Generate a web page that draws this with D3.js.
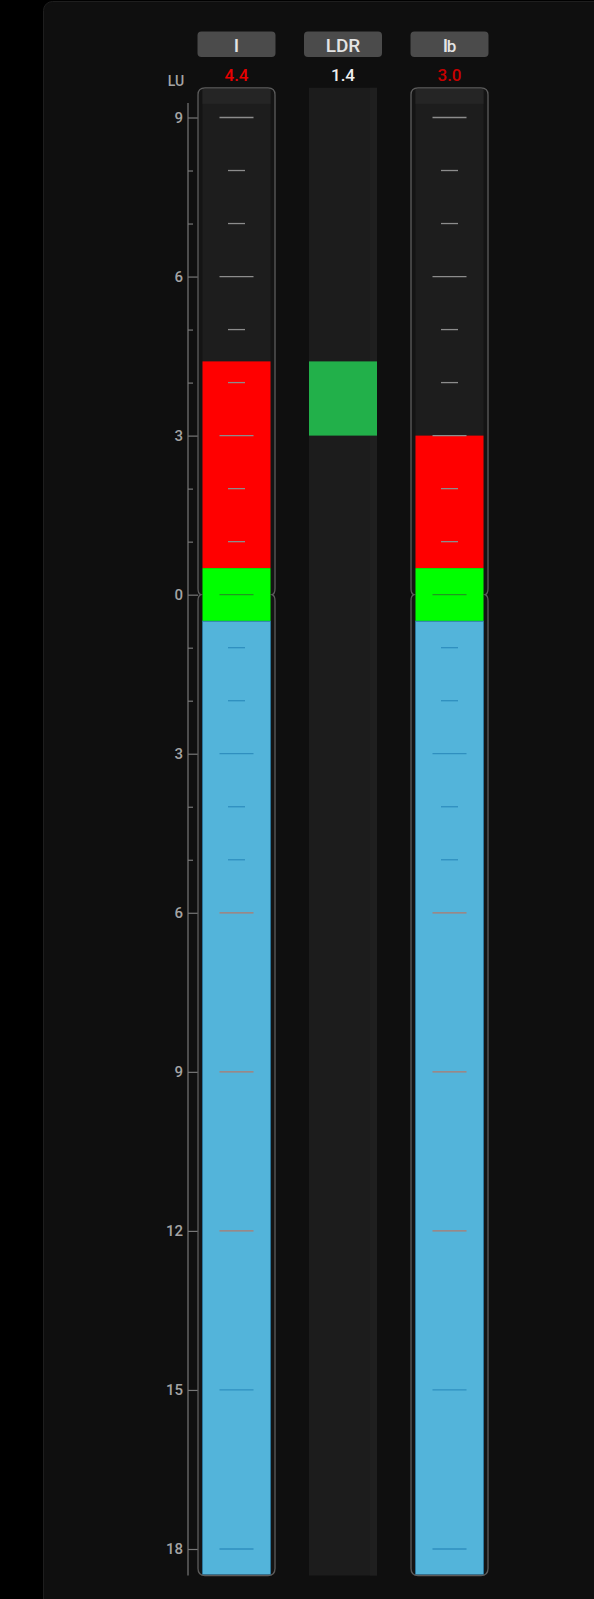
<!DOCTYPE html>
<html><head><meta charset="utf-8">
<script src="https://cdn.jsdelivr.net/npm/d3@7/dist/d3.min.js"></script>
<style>
html,body{margin:0;padding:0;background:#000;}
svg{display:block;font-family:Roboto,"Noto Sans",sans-serif;}
</style></head>
<body>
<svg id="chart" width="594" height="1599"></svg>
<script>
// ---- data ----
const meters = ["I", "LDR", "Ib"];
const readouts = ["4.4", "1.4", "3.0"];
const levels = [4.4, null, 3.0];          // LU level of each loudness bar
const ldrRange = [3.0, 4.4];              // LDR bar spans these LU values
const greenZone = [-0.5, 0.5];
const scaleTop = 9.56, scaleBottom = -18.5;
const majorTicks = [9, 6, 3, 0, -3, -6, -9, -12, -15, -18];
const minorTicks = [8, 7, 5, 4, 2, 1, -1, -2, -4, -5];
const axisUnit = "LU";

// ---- layout ----
const svg = d3.select("#chart");
const W = 594, H = 1599;
svg.append("rect").attr("width", W).attr("height", H).attr("fill", "#000");
svg.append("rect").attr("x", 43.5).attr("y", 1.5).attr("width", 600).attr("height", 1700)
  .attr("rx", 9).attr("fill", "#0f0f0f").attr("stroke", "#1e1e1e");

const y = d3.scaleLinear().domain([9, -18]).range([117.5, 1549]);
const x = d3.scalePoint().domain(meters).range([236.5, 449.5]);
const frameW = 77, fillW = 68;

function tickColor(v) {
  if (v > 0) return "#8c8c8c";
  if (v === 0) return "#1f9a1f";
  if (v >= -5 || v <= -15) return "#2f8fbf";
  return "#b07a6c";
}

// ---- axis ----
const axisX = 188;
const gAxis = svg.append("g").attr("transform", `translate(${axisX},0)`);
gAxis.call(d3.axisRight(y).tickValues(majorTicks).tickSize(10)
  .tickFormat(d => Math.abs(d)));
gAxis.select(".domain").remove();
gAxis.selectAll(".tick line").attr("stroke", "#777").attr("stroke-width", 1.2);
gAxis.selectAll(".tick text").attr("x", -5).attr("text-anchor", "end")
  .attr("fill", "#a4a4a4").attr("font-size", 15).attr("font-weight", 500)
  .attr("font-family", "Roboto, sans-serif");
const gMinor = svg.append("g").attr("transform", `translate(${axisX},0)`);
gMinor.call(d3.axisRight(y).tickValues(minorTicks).tickSize(5).tickFormat(""));
gMinor.select(".domain").remove();
gMinor.selectAll(".tick line").attr("stroke", "#777").attr("stroke-width", 1.2);
svg.append("line").attr("x1", axisX).attr("x2", axisX)
  .attr("y1", 103).attr("y2", y(scaleBottom)).attr("stroke", "#777").attr("stroke-width", 1.2);
svg.append("text").attr("x", 176).attr("y", 86).attr("text-anchor", "middle")
  .attr("fill", "#a4a4a4").attr("font-size", 14).attr("font-weight", 500).text(axisUnit);

// ---- headers ----
meters.forEach((m, i) => {
  const cx = x(m);
  svg.append("rect").attr("x", cx - 39).attr("y", 31.5).attr("width", 78).attr("height", 25.5)
    .attr("rx", 4).attr("fill", "#4b4b4b");
  const t = svg.append("text").attr("x", cx).attr("y", 51.5).attr("text-anchor", "middle")
    .attr("fill", "#e4e4e4").attr("font-size", 19).attr("font-weight", 500);
  if (m === "Ib") {
    t.append("tspan").text("I");
    t.append("tspan").attr("dx", -1.5).attr("font-size", 17).text("b");
  } else t.text(m);
  const col = i === 0 ? "#e80000" : (i === 2 ? "#c80000" : "#f0f0f0");
  svg.append("text").attr("x", cx).attr("y", 81).attr("text-anchor", "middle")
    .attr("fill", col).attr("font-size", 17).attr("font-weight", 500).text(readouts[i]);
});

// ---- meters ----
const yTop = y(scaleTop), yBot = y(scaleBottom), yZero = y(0);
meters.forEach((m, i) => {
  const cx = x(m);
  if (levels[i] === null) {
    // LDR column
    svg.append("rect").attr("x", cx - fillW / 2).attr("y", yTop).attr("width", fillW)
      .attr("height", yBot - yTop).attr("fill", "#1c1c1c");
    svg.append("rect").attr("x", cx + fillW / 2 - 7).attr("y", yTop).attr("width", 7)
      .attr("height", yBot - yTop).attr("fill", "#1f1f1f");
    svg.append("rect").attr("x", cx - fillW / 2).attr("y", y(ldrRange[1]))
      .attr("width", fillW).attr("height", y(ldrRange[0]) - y(ldrRange[1]))
      .attr("fill", "#22b04a");
    return;
  }
  const x0 = cx - frameW / 2, x1 = cx + frameW / 2;
  // interior
  svg.append("rect").attr("x", x0).attr("y", yTop).attr("width", frameW)
    .attr("height", yBot - yTop).attr("rx", 7).attr("fill", "#141414");
  svg.append("rect").attr("x", cx - fillW / 2).attr("y", yTop + 1).attr("width", fillW)
    .attr("height", yBot - yTop - 2).attr("fill", "#1d1d1d");
  svg.append("rect").attr("x", cx - fillW / 2).attr("y", yTop + 1).attr("width", fillW)
    .attr("height", 15).attr("fill", "#252525");
  // fills
  const lv = levels[i];
  svg.append("rect").attr("x", cx - fillW / 2).attr("y", y(lv)).attr("width", fillW)
    .attr("height", y(greenZone[1]) - y(lv)).attr("fill", "#ff0000");
  svg.append("rect").attr("x", cx - fillW / 2).attr("y", y(greenZone[1])).attr("width", fillW)
    .attr("height", y(greenZone[0]) - y(greenZone[1])).attr("fill", "#00ff00");
  svg.append("rect").attr("x", cx - fillW / 2).attr("y", y(greenZone[0])).attr("width", fillW)
    .attr("height", yBot - 1 - y(greenZone[0])).attr("fill", "#53b4da")
    .attr("stroke", "#2a7aa3").attr("stroke-width", 0.8);
  // inner ticks
  const g = svg.append("g");
  g.selectAll(".maj").data(majorTicks).join("line")
    .attr("x1", cx - 17).attr("x2", cx + 17)
    .attr("y1", d => y(d)).attr("y2", d => y(d))
    .attr("stroke", d => tickColor(d)).attr("stroke-width", 1.3);
  g.selectAll(".min").data(minorTicks).join("line")
    .attr("x1", cx - 8.5).attr("x2", cx + 8.5)
    .attr("y1", d => y(d)).attr("y2", d => y(d))
    .attr("stroke", d => tickColor(d)).attr("stroke-width", 1.3);
  // frame with notch at 0
  const r = 7;
  const p = d3.path();
  p.moveTo(x0 + r, yTop);
  p.lineTo(x1 - r, yTop);
  p.quadraticCurveTo(x1, yTop, x1, yTop + r);
  p.lineTo(x1, yZero - 6);
  p.quadraticCurveTo(x1, yZero - 1, x1 - 3, yZero);
  p.quadraticCurveTo(x1, yZero + 1, x1, yZero + 6);
  p.lineTo(x1, yBot - r);
  p.quadraticCurveTo(x1, yBot, x1 - r, yBot);
  p.lineTo(x0 + r, yBot);
  p.quadraticCurveTo(x0, yBot, x0, yBot - r);
  p.lineTo(x0, yZero + 6);
  p.quadraticCurveTo(x0, yZero + 1, x0 + 3, yZero);
  p.quadraticCurveTo(x0, yZero - 1, x0, yZero - 6);
  p.lineTo(x0, yTop + r);
  p.quadraticCurveTo(x0, yTop, x0 + r, yTop);
  svg.append("path").attr("d", p.toString()).attr("fill", "none")
    .attr("stroke", "#5c5c5c").attr("stroke-width", 1.3);
});
</script>
</body></html>
